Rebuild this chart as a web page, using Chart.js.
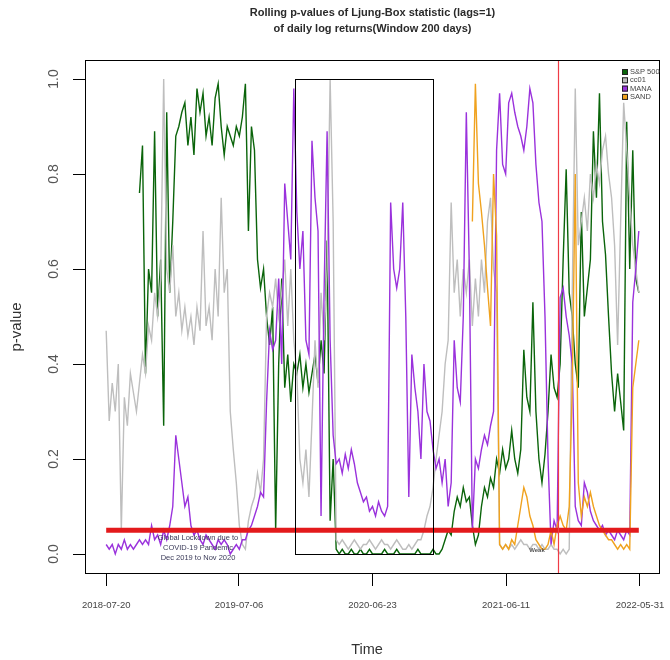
<!DOCTYPE html>
<html>
<head>
<meta charset="utf-8">
<script src="https://cdn.jsdelivr.net/npm/chart.js@4.4.1/dist/chart.umd.min.js"></script>
<style>
  html, body { margin: 0; padding: 0; background: #fff; }
  canvas { display: block; }
</style>
</head>
<body>
<canvas id="chart" width="670" height="660"></canvas>
<script>
// one sample every 8 days, day 0 = 2018-07-20
const STEP_DAYS = 8;

const X_TICK_DAYS = [0, 351, 704, 1057, 1411];
const X_TICK_LABELS = ['2018-07-20', '2019-07-06', '2020-06-23', '2021-06-11', '2022-05-31'];
const Y_TICKS = [0, 0.2, 0.4, 0.6, 0.8, 1.0];

const SERIES_LABELS = ['S&P 500', 'cc01', 'MANA', 'SAND'];
const SERIES_COLORS = ['#0a640a', '#bebebe', '#9a32dc', '#f0a21e'];
const SERIES_START = [11, 0, 0, 121];   // first sample index of each series

const SP500 = [
  0.76, 0.86, 0.38, 0.60, 0.55, 0.89, 0.50, 0.62, 0.27,
  0.93, 0.55, 0.70, 0.88, 0.90, 0.93, 0.95, 0.86, 0.92, 0.84,
  0.98, 0.93, 0.97, 0.88, 0.92, 0.86, 0.96, 0.99, 0.90, 0.84,
  0.90, 0.88, 0.86, 0.90, 0.88, 0.92, 0.99, 0.68, 0.90, 0.85,
  0.62, 0.56, 0.60, 0.50, 0.44, 0.52, 0.05, 0.40, 0.58, 0.35,
  0.42, 0.32, 0.40, 0.38, 0.42, 0.35, 0.40, 0.34, 0.38, 0.42,
  0.36, 0.45, 0.38, 0.66, 0.07, 0.20, 0.01, 0.00, 0.01, 0.00,
  0.00, 0.01, 0.00, 0.00, 0.01, 0.00, 0.00, 0.01, 0.00, 0.00,
  0.00, 0.00, 0.01, 0.00, 0.00, 0.00, 0.01, 0.00, 0.00, 0.00,
  0.00, 0.00, 0.00, 0.01, 0.00, 0.00, 0.00, 0.00, 0.01, 0.00,
  0.00, 0.01, 0.03, 0.05, 0.04, 0.09, 0.12, 0.10, 0.14, 0.11,
  0.12, 0.06, 0.02, 0.04, 0.10, 0.14, 0.12, 0.16, 0.14, 0.20,
  0.17, 0.22, 0.18, 0.20, 0.26, 0.20, 0.17, 0.22, 0.43, 0.33,
  0.30, 0.53, 0.30, 0.20, 0.15, 0.21, 0.30, 0.42, 0.35, 0.33,
  0.40, 0.62, 0.81, 0.55, 0.50, 0.40, 0.35, 0.72, 0.50, 0.56,
  0.62, 0.89, 0.75, 0.97, 0.70, 0.63, 0.50, 0.38, 0.30, 0.38,
  0.32, 0.26, 0.91, 0.60, 0.85, 0.58, 0.55
];

const CC01 = [
  0.47, 0.28, 0.36, 0.30, 0.40, 0.05, 0.33, 0.27, 0.38, 0.34,
  0.30, 0.36, 0.42, 0.38, 0.48, 0.45, 0.55, 0.50, 0.58, 1.00,
  0.60, 0.55, 0.65, 0.50, 0.55, 0.47, 0.52, 0.46, 0.50, 0.44,
  0.52, 0.47, 0.68, 0.48, 0.52, 0.45, 0.60, 0.50, 0.75, 0.55,
  0.60, 0.30, 0.22, 0.15, 0.06, 0.02, 0.01, 0.07, 0.10, 0.12,
  0.17, 0.13, 0.20, 0.50, 0.55, 0.52, 0.58, 0.50, 0.55, 0.62,
  0.48, 0.60, 0.45, 0.38, 0.20, 0.15, 0.22, 0.12, 0.28, 0.45,
  0.35, 0.55, 0.45, 0.60, 1.00, 0.70, 0.03, 0.02, 0.03, 0.02,
  0.01, 0.02, 0.03, 0.02, 0.01, 0.02, 0.02, 0.03, 0.02, 0.01,
  0.02, 0.03, 0.02, 0.02, 0.01, 0.02, 0.03, 0.02, 0.01, 0.01,
  0.02, 0.01, 0.02, 0.03, 0.03, 0.05, 0.08, 0.10, 0.14, 0.20,
  0.25, 0.30, 0.40, 0.45, 0.74, 0.55, 0.62, 0.50, 0.60, 0.55,
  0.62, 0.48, 0.58, 0.50, 0.62, 0.55, 0.70, 0.75, 0.60, 0.55,
  0.02, 0.01, 0.02, 0.01, 0.02, 0.01, 0.02, 0.03, 0.02, 0.02,
  0.01, 0.02, 0.02, 0.01, 0.02, 0.01, 0.01, 0.02, 0.01, 0.01,
  0.00, 0.01, 0.00, 0.01, 0.55, 0.98, 0.65, 0.70, 0.75, 0.68,
  0.80, 0.75, 0.82, 0.78, 0.85, 0.88, 0.80, 0.75, 0.65, 0.44,
  0.70, 0.95, 0.85, 0.75, 0.65, 0.60, 0.55
];

const MANA = [
  0.02, 0.01, 0.02, 0.00, 0.02, 0.01, 0.03, 0.01, 0.02, 0.01,
  0.02, 0.03, 0.02, 0.03, 0.02, 0.06, 0.03, 0.04, 0.02, 0.05,
  0.03, 0.06, 0.10, 0.25, 0.20, 0.15, 0.10, 0.12, 0.06, 0.04,
  0.05, 0.03, 0.02, 0.04, 0.03, 0.02, 0.01, 0.03, 0.02, 0.03,
  0.02, 0.00, 0.01, 0.02, 0.01, 0.03, 0.03, 0.05, 0.06, 0.08,
  0.10, 0.13, 0.12, 0.32, 0.47, 0.43, 0.45, 0.58, 0.40, 0.78,
  0.70, 0.62, 0.98, 0.72, 0.60, 0.68, 0.45, 0.42, 0.87, 0.75,
  0.68, 0.08, 0.55, 0.89, 0.45, 0.25, 0.19, 0.20, 0.17, 0.21,
  0.18, 0.22, 0.19, 0.15, 0.13, 0.11, 0.12, 0.09, 0.10, 0.08,
  0.11, 0.09, 0.08, 0.10, 0.74, 0.60, 0.56, 0.60, 0.74, 0.50,
  0.12, 0.42, 0.35, 0.30, 0.20, 0.40, 0.30, 0.28, 0.22, 0.18,
  0.20, 0.15, 0.20, 0.10, 0.15, 0.45, 0.35, 0.32, 0.50, 0.93,
  0.60, 0.05, 0.20, 0.18, 0.22, 0.25, 0.23, 0.27, 0.30, 0.85,
  0.97, 0.82, 0.80, 0.95, 0.97, 0.93, 0.90, 0.88, 0.85, 0.90,
  0.98, 0.95, 0.82, 0.74, 0.70, 0.50, 0.20, 0.02, 0.07, 0.05,
  0.54, 0.56, 0.50, 0.46, 0.40, 0.10, 0.07, 0.06, 0.15, 0.13,
  0.09, 0.07, 0.06, 0.05, 0.06, 0.04, 0.05, 0.04, 0.03, 0.05,
  0.04, 0.03, 0.05, 0.04, 0.53, 0.60, 0.68
];

const SAND = [
  0.70, 0.99, 0.78, 0.72, 0.65, 0.56, 0.48, 0.80, 0.67,
  0.02, 0.01, 0.02, 0.01, 0.03, 0.02, 0.06, 0.10, 0.14, 0.12,
  0.08, 0.06, 0.03, 0.02, 0.01, 0.01, 0.02, 0.05, 0.02, 0.06,
  0.08, 0.06, 0.05, 0.10, 0.35, 0.80, 0.15, 0.08, 0.12, 0.10,
  0.13, 0.10, 0.08, 0.06, 0.05, 0.04, 0.03, 0.03, 0.02, 0.01,
  0.02, 0.01, 0.02, 0.01, 0.35, 0.40, 0.45
];

const SERIES_VALUES = [SP500, CC01, MANA, SAND];

// reference lines and the lockdown window (days since 2018-07-20)
const THRESHOLD = 0.05;
const LAST_DAY = 1408;
const LOCKDOWN_START = 499;
const LOCKDOWN_END = 864;
const MARK_DAY = 1195;
const LOCKDOWN_NOTE = ['Global Lockdown due to', 'COVID-19 Pandemic', 'Dec 2019 to Nov 2020'];

const TITLE_LINES = ['Rolling p-values of Ljung-Box statistic (lags=1)', 'of daily log returns(Window 200 days)'];

const FONT = '"Liberation Sans", Arial, sans-serif';

function toPoints(values, start) {
    return values.map((v, j) => ({ x: (start + j) * STEP_DAYS, y: v }));
}

const datasets = SERIES_LABELS.map((label, k) => ({
    label: label,
    data: toPoints(SERIES_VALUES[k], SERIES_START[k]),
    borderColor: SERIES_COLORS[k],
    borderWidth: 1.4,
    pointRadius: 0,
    fill: false,
    order: 10 - k
}));

datasets.push({
    label: 'threshold',
    data: [{ x: 0, y: THRESHOLD }, { x: LAST_DAY, y: THRESHOLD }],
    borderColor: '#e31a1c',
    borderWidth: 5,
    pointRadius: 0,
    order: 1
});

const overlayPlugin = {
    id: 'overlay',
    afterDatasetsDraw(chart) {
        const { ctx, chartArea: a, scales: { x, y } } = chart;
        ctx.save();

        // 락다운 구간 박스
        const bx0 = x.getPixelForValue(LOCKDOWN_START);
        const bx1 = x.getPixelForValue(LOCKDOWN_END);
        const by0 = y.getPixelForValue(1);
        const by1 = y.getPixelForValue(0);
        ctx.strokeStyle = '#000';
        ctx.lineWidth = 1;
        ctx.strokeRect(Math.round(bx0) + 0.5, Math.round(by0) + 0.5, Math.round(bx1 - bx0), Math.round(by1 - by0));

        // 세로 빨간선
        const mx = Math.round(x.getPixelForValue(MARK_DAY)) + 0.5;
        ctx.strokeStyle = '#f03c46';
        ctx.lineWidth = 1.2;
        ctx.beginPath();
        ctx.moveTo(mx, a.top);
        ctx.lineTo(mx, a.bottom);
        ctx.stroke();

        // annotation text
        ctx.fillStyle = '#3a3a58';
        ctx.font = '7.5px ' + FONT;
        ctx.textAlign = 'center';
        ctx.textBaseline = 'middle';
        LOCKDOWN_NOTE.forEach((t, i) => ctx.fillText(t, 198, 538 + i * 10));
        ctx.fillStyle = '#555';
        ctx.font = 'bold 6px ' + FONT;
        ctx.fillText('Weak', 537, 550);
        ctx.restore();
    },
    afterDraw(chart) {
        const { ctx, chartArea: a, scales: { x, y } } = chart;
        ctx.save();

        // frame
        ctx.strokeStyle = '#000';
        ctx.lineWidth = 1;
        ctx.strokeRect(a.left + 0.5, a.top + 0.5, a.right - a.left - 1, a.bottom - a.top);

        ctx.textAlign = 'center';
        ctx.textBaseline = 'middle';

        // x tick labels
        ctx.fillStyle = '#444';
        ctx.font = '9.5px ' + FONT;
        X_TICK_DAYS.forEach((d, i) => ctx.fillText(X_TICK_LABELS[i], x.getPixelForValue(d), 605));

        // y tick labels, rotated like R
        ctx.fillStyle = '#555';
        ctx.font = '14px ' + FONT;
        Y_TICKS.forEach(v => {
            ctx.save();
            ctx.translate(54, y.getPixelForValue(v));
            ctx.rotate(-Math.PI / 2);
            ctx.fillText(v.toFixed(1), 0, 0);
            ctx.restore();
        });

        // axis titles
        ctx.fillStyle = '#333';
        ctx.font = '15px ' + FONT;
        ctx.save();
        ctx.translate(17, 327);
        ctx.rotate(-Math.PI / 2);
        ctx.fillText('p-value', 0, 0);
        ctx.restore();
        ctx.font = '14.5px ' + FONT;
        ctx.fillText('Time', 367, 650);

        // title
        ctx.fillStyle = '#2a2a2a';
        ctx.font = 'bold 11px ' + FONT;
        TITLE_LINES.forEach((t, i) => ctx.fillText(t, (a.left + a.right) / 2, 13 + i * 16));

        // legend
        ctx.font = '7.5px ' + FONT;
        ctx.textAlign = 'left';
        SERIES_LABELS.forEach((label, k) => {
            const ly = 72 + k * 8.3;
            ctx.fillStyle = SERIES_COLORS[k];
            ctx.fillRect(622, ly - 3, 6, 6);
            ctx.strokeStyle = '#222';
            ctx.strokeRect(622.5, ly - 2.5, 5, 5);
            ctx.fillStyle = '#444';
            ctx.fillText(label, 630, ly);
        });
        ctx.restore();
    }
};

const chart = new Chart(document.getElementById('chart').getContext('2d'), {
    type: 'line',
    data: { datasets: datasets },
    options: {
        responsive: false,
        animation: false,
        layout: { padding: { top: 60, right: 10, left: 0, bottom: 0 } },
        plugins: {
            legend: { display: false },
            tooltip: { enabled: false },
            title: { display: false }
        },
        elements: { line: { tension: 0 } },
        scales: {
            x: {
                type: 'linear',
                min: -56,
                max: 1464,
                afterBuildTicks: (scale) => { scale.ticks = X_TICK_DAYS.map(v => ({ value: v })); },
                afterFit: (scale) => { scale.height = 87; },
                border: { display: false },
                grid: { drawOnChartArea: false, drawTicks: true, tickLength: 13, color: '#000' },
                ticks: { display: false }
            },
            y: {
                min: -0.04,
                max: 1.04,
                afterBuildTicks: (scale) => { scale.ticks = Y_TICKS.map(v => ({ value: v })); },
                afterFit: (scale) => { scale.width = 85; },
                border: { display: false },
                grid: { drawOnChartArea: false, drawTicks: true, tickLength: 12, color: '#000' },
                ticks: { display: false }
            }
        }
    },
    plugins: [overlayPlugin]
});
</script>
</body>
</html>
